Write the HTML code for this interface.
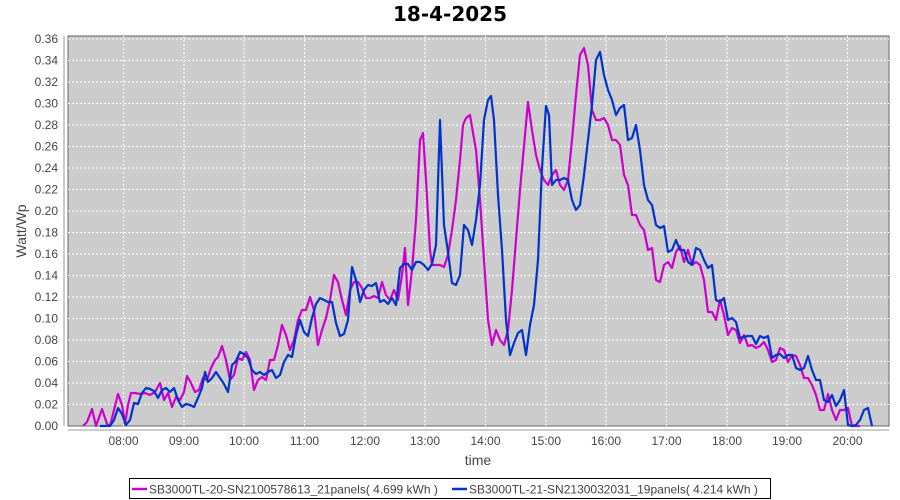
<!DOCTYPE html><html><head><style>body{margin:0;background:#fff}svg{display:block;font-family:"Liberation Sans",sans-serif}</style></head><body>
<svg width="900" height="500" xmlns="http://www.w3.org/2000/svg">
<text x="450" y="21" text-anchor="middle" font-size="20" font-weight="bold" font-family="DejaVu Sans, sans-serif">18-4-2025</text>
<rect x="68" y="36" width="821" height="390" fill="#cccccc" stroke="#666" stroke-width="1"/>
<g stroke="#fff" stroke-dasharray="2,2" stroke-width="1">
<line x1="68" x2="889" y1="39" y2="39"/><line x1="68" x2="889" y1="60.5" y2="60.5"/><line x1="68" x2="889" y1="82" y2="82"/><line x1="68" x2="889" y1="103.5" y2="103.5"/><line x1="68" x2="889" y1="125" y2="125"/><line x1="68" x2="889" y1="146.5" y2="146.5"/><line x1="68" x2="889" y1="168" y2="168"/><line x1="68" x2="889" y1="189.5" y2="189.5"/><line x1="68" x2="889" y1="211" y2="211"/><line x1="68" x2="889" y1="232.5" y2="232.5"/><line x1="68" x2="889" y1="254" y2="254"/><line x1="68" x2="889" y1="275.5" y2="275.5"/><line x1="68" x2="889" y1="297" y2="297"/><line x1="68" x2="889" y1="318.5" y2="318.5"/><line x1="68" x2="889" y1="340" y2="340"/><line x1="68" x2="889" y1="361.5" y2="361.5"/><line x1="68" x2="889" y1="383" y2="383"/><line x1="68" x2="889" y1="404.5" y2="404.5"/>
<line y1="36" y2="426" x1="123.5" x2="123.5"/><line y1="36" y2="426" x1="184" x2="184"/><line y1="36" y2="426" x1="244" x2="244"/><line y1="36" y2="426" x1="304.5" x2="304.5"/><line y1="36" y2="426" x1="365" x2="365"/><line y1="36" y2="426" x1="425" x2="425"/><line y1="36" y2="426" x1="485.5" x2="485.5"/><line y1="36" y2="426" x1="546" x2="546"/><line y1="36" y2="426" x1="606" x2="606"/><line y1="36" y2="426" x1="666.5" x2="666.5"/><line y1="36" y2="426" x1="727" x2="727"/><line y1="36" y2="426" x1="787" x2="787"/><line y1="36" y2="426" x1="847.5" x2="847.5"/>
</g>
<g font-size="12" fill="#444" text-anchor="end">
<text x="58" y="43">0.36</text><text x="58" y="64.5">0.34</text><text x="58" y="86">0.32</text><text x="58" y="107.5">0.30</text><text x="58" y="129">0.28</text><text x="58" y="150.5">0.26</text><text x="58" y="172">0.24</text><text x="58" y="193.5">0.22</text><text x="58" y="215">0.20</text><text x="58" y="236.5">0.18</text><text x="58" y="258">0.16</text><text x="58" y="279.5">0.14</text><text x="58" y="301">0.12</text><text x="58" y="322.5">0.10</text><text x="58" y="344">0.08</text><text x="58" y="365.5">0.06</text><text x="58" y="387">0.04</text><text x="58" y="408.5">0.02</text><text x="58" y="430">0.00</text>
</g>
<g stroke="#999"><line x1="64" x2="64" y1="36" y2="426"/><line x1="68" x2="889" y1="430" y2="430"/></g>
<g font-size="12" fill="#444" text-anchor="middle">
<text x="123.5" y="445">08:00</text><text x="184" y="445">09:00</text><text x="244" y="445">10:00</text><text x="304.5" y="445">11:00</text><text x="365" y="445">12:00</text><text x="425" y="445">13:00</text><text x="485.5" y="445">14:00</text><text x="546" y="445">15:00</text><text x="606" y="445">16:00</text><text x="666.5" y="445">17:00</text><text x="727" y="445">18:00</text><text x="787" y="445">19:00</text><text x="847.5" y="445">20:00</text>
</g>
<text x="478" y="465" text-anchor="middle" font-size="14" fill="#444">time</text>
<text transform="translate(26,231) rotate(-90)" text-anchor="middle" font-size="14" fill="#444">Watt/Wp</text>
<polyline fill="none" stroke="#cc00cc" stroke-width="2.2" stroke-linejoin="round" points="83,426 87,422 92,409 96,426 102,409 107,424 110,426 114,410 118,394 122,405 125,424 128,405 131,393 135,393 140,394 145,393 150,395 155,392 160,383 164,400 168,393 172,407 176,397 180,400 184,392 187,376 191,383 195,392 199,390 203,378 207,380 211,368 215,360 218,357 222,346 226,360 230,380 234,375 238,358 242,360 246,352 250,360 254,390 258,380 262,377 266,380 270,360 274,360 278,345 282,325 286,335 290,350 294,340 298,320 302,310 306,310 310,297 314,310 318,345 322,330 326,318 330,300 334,275 338,282 342,300 346,315 350,290 354,282 358,282 362,288 366,298 370,298 374,296 378,298 382,282 386,295 390,300 394,290 398,300 402,275 405,248 408,305 412,270 416,220 420,140 423,133 426,180 430,250 432,265 436,265 440,265 444,267 448,255 452,230 456,200 460,160 463,125 466,118 470,115 472,127 476,150 480,200 484,260 488,320 492,345 496,330 500,340 504,345 508,330 512,290 516,240 520,190 525,135 528,102 532,130 536,155 540,170 544,180 548,185 552,175 556,170 560,185 564,190 568,180 572,140 576,95 580,55 584,48 588,65 592,110 596,120 600,120 604,118 608,125 612,140 616,140 620,145 624,175 628,185 632,215 636,215 640,225 644,230 648,250 652,248 656,280 660,282 664,265 668,262 672,268 676,252 680,246 684,262 688,250 692,265 696,262 700,265 704,280 708,312 712,312 716,320 720,300 724,315 728,335 732,328 736,330 740,343 744,335 748,346 752,345 756,348 760,346 764,342 768,350 772,362 776,360 780,348 784,350 788,362 792,355 796,356 800,365 804,378 808,378 812,385 816,395 820,410 824,410 828,394 832,410 836,420 840,410 844,410 848,408 852,426 860,426"/>
<polyline fill="none" stroke="#0033cc" stroke-width="2.2" stroke-linejoin="round" points="100,426 110,426 114,420 118,408 122,414 126,425 130,420 134,403 138,404 142,393 146,388 150,389 154,391 158,398 162,390 166,388 170,392 174,388 178,400 182,407 186,404 190,405 194,407 198,398 202,388 205,372 208,382 212,378 216,372 220,378 224,384 228,392 232,365 236,361 240,352 244,354 248,358 252,370 256,374 260,372 264,375 268,372 272,370 276,378 280,375 284,362 288,355 292,357 296,335 300,320 304,332 308,336 312,318 316,304 320,298 324,300 328,302 332,302 336,323 340,336 344,334 348,320 352,267 356,280 360,302 364,290 368,285 372,286 376,283 380,302 384,300 388,304 392,298 396,305 400,268 404,264 408,264 412,270 416,262 420,262 424,265 428,270 432,264 436,245 440,120 444,225 448,252 452,283 456,285 460,275 464,225 468,230 472,245 476,220 480,185 484,120 488,100 491,96 494,120 498,195 502,250 506,320 510,355 514,343 518,333 522,330 526,355 530,325 534,305 538,260 542,168 546,106 549,115 552,185 556,180 560,180 564,178 568,180 572,200 576,210 580,205 584,175 588,140 592,105 596,60 600,52 604,75 608,90 612,100 616,115 620,108 624,105 628,140 632,138 636,125 640,150 644,185 648,200 652,205 656,225 660,228 664,226 668,252 672,250 676,240 680,250 684,250 688,262 692,265 696,248 700,250 704,260 708,268 712,265 716,300 720,302 724,298 728,320 732,318 736,322 740,338 744,337 748,336 752,336 756,344 760,336 764,338 768,336 772,358 776,355 780,354 784,358 788,355 792,355 796,368 800,370 804,368 808,356 812,370 816,380 820,380 824,400 828,402 832,395 836,406 840,400 844,390 848,425 852,426 856,425 860,420 864,410 868,408 872,426"/>
<rect x="129.5" y="478.5" width="641" height="20" fill="#fff" stroke="#000"/>
<line x1="132" x2="147" y1="489" y2="489" stroke="#cc00cc" stroke-width="2.5"/>
<text x="149" y="493.5" font-size="12" fill="#444">SB3000TL-20-SN2100578613_21panels( 4.699 kWh )</text>
<line x1="452" x2="467" y1="489" y2="489" stroke="#0033cc" stroke-width="2.5"/>
<text x="469" y="493.5" font-size="12" fill="#444">SB3000TL-21-SN2130032031_19panels( 4.214 kWh )</text>
</svg></body></html>
